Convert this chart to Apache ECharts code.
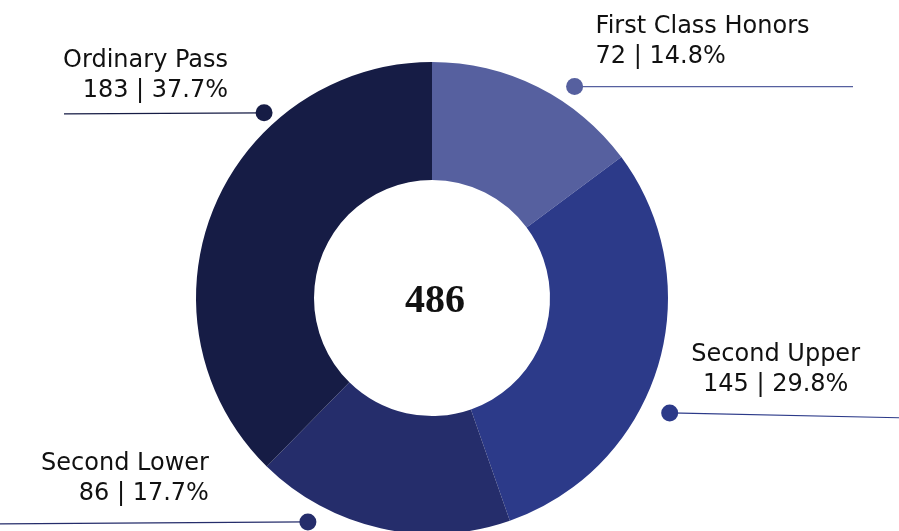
<!DOCTYPE html>
<html>
<head>
<meta charset="utf-8">
<script src="https://cdn.jsdelivr.net/npm/echarts@6/dist/echarts.min.js"></script>
<style>
  html, body { margin: 0; padding: 0; background: #fff; }
  #chart { width: 899px; height: 531px; }
</style>
</head>
<body>
<div id="chart"></div>
<script>
const categories = ['First Class Honors', 'Second Upper', 'Second Lower', 'Ordinary Pass']
const counts = [72, 145, 86, 183]

const colors = ['#56609f', '#2c3a89', '#252d6b', '#161c45']
const cx = 432
const cy = 298

// callout placement per slice: dot angle (deg clockwise from top) and radius,
// end of the leader line, text offset from the dot
const callouts = [
  { ang: 34, r: 255, endX: 853, endDy: 0, tx: 21, ty: -15, align: 'left' },
  { ang: 115.8, r: 264, endX: 905, endDy: 5, tx: 106, ty: -13, align: 'center' },
  { ang: 209, r: 256, endX: -5, endDy: 2, tx: -99, ty: -13, align: 'right' },
  { ang: 317.8, r: 250, endX: 64, endDy: 1, tx: -36, ty: -7, align: 'right' }
]

function dotPos (c) {
  const a = c.ang * Math.PI / 180
  return [cx + c.r * Math.sin(a), cy - c.r * Math.cos(a)]
}

const total = counts.reduce((s, v) => s + v, 0)
const pieData = categories.map((name, i) => ({ name, value: counts[i] }))

const dotRich = {}
colors.forEach((c, i) => {
  dotRich['dot' + i] = { width: 17, height: 17, lineHeight: 17, borderRadius: 9, backgroundColor: c }
})

const chart = echarts.init(document.getElementById('chart'))
chart.setOption({
  backgroundColor: '#fff',
  animation: false,
  color: colors,
  title: {
    text: String(total),
    left: cx - 2,
    top: cy - 1,
    textAlign: 'center',
    textVerticalAlign: 'middle',
    textStyle: { fontFamily: 'Liberation Serif', fontWeight: 'bold', fontSize: 40, color: '#111' }
  },
  series: [
    {
      type: 'pie',
      center: [cx, cy],
      radius: [118, 236],
      startAngle: 90,
      clockwise: true,
      percentPrecision: 1,
      avoidLabelOverlap: false,
      emphasis: { disabled: true },
      data: pieData,
      label: {
        show: true,
        formatter: '{b}\n{c} | {d}%',
        fontFamily: 'DejaVu Sans',
        fontSize: 24,
        lineHeight: 30,
        color: '#111'
      },
      labelLine: { show: true, lineStyle: { width: 1.2 } },
      labelLayout: function (p) {
        const c = callouts[p.dataIndex]
        const d = dotPos(c)
        return {
          x: d[0] + c.tx,
          y: d[1] + c.ty,
          align: c.align,
          verticalAlign: 'bottom',
          labelLinePoints: [d, d, [c.endX, d[1] + c.endDy]]
        }
      }
    },
    {
      // transparent copy that only carries the callout dots
      type: 'pie',
      center: [cx, cy],
      radius: [118, 236],
      startAngle: 90,
      clockwise: true,
      silent: true,
      data: pieData,
      itemStyle: { color: 'rgba(0,0,0,0)' },
      label: {
        show: true,
        formatter: p => '{dot' + p.dataIndex + '| }',
        rich: dotRich
      },
      labelLine: { show: false },
      labelLayout: function (p) {
        const d = dotPos(callouts[p.dataIndex])
        return { x: d[0], y: d[1], align: 'center', verticalAlign: 'middle' }
      }
    }
  ]
})
</script>
</body>
</html>
